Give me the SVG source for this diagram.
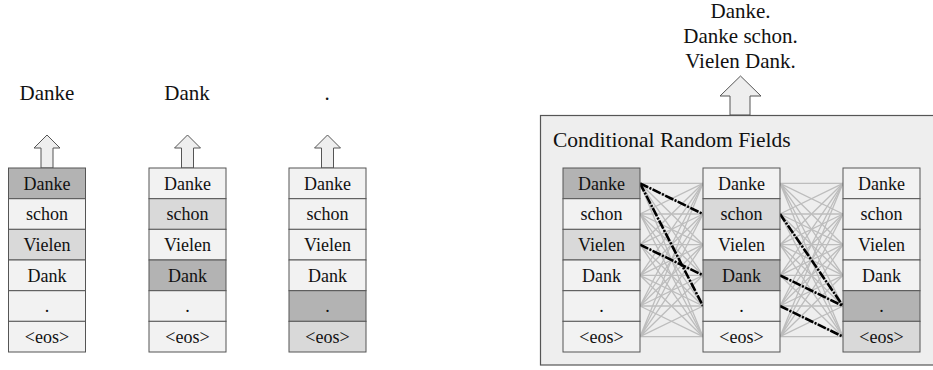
<svg xmlns="http://www.w3.org/2000/svg" width="933" height="370" viewBox="0 0 933 370" font-family="'Liberation Serif', 'DejaVu Serif', serif">
<style>
text{font-family:'Liberation Serif','DejaVu Serif',serif;fill:#111;text-anchor:middle}
.lbl{font-size:21px}
.cell text{font-size:18px}
.c{stroke:#555;stroke-width:1}
.w{fill:#f2f2f2}
.d{fill:#b3b3b3}
.l{fill:#d9d9d9}
.arr{fill:#eeeeee;stroke:#555;stroke-width:1}
.g{stroke:#bdbdbd;stroke-width:1.3;fill:none}
.k{stroke:#000;stroke-width:2.6;fill:none;stroke-dasharray:9 1.5 2 1.5}
</style>

<!-- top labels -->
<text class="lbl" x="47" y="100">Danke</text>
<text class="lbl" x="187" y="100">Dank</text>
<text class="lbl" x="327" y="100">.</text>

<!-- left arrows -->
<path class="arr" d="M47 135 L60 148 L53 148 L53 168 L41 168 L41 148 L34 148 Z"/>
<path class="arr" d="M187.5 135 L200.5 148 L193.5 148 L193.5 168 L181.5 168 L181.5 148 L174.5 148 Z"/>
<path class="arr" d="M327.5 135 L340.5 148 L333.5 148 L333.5 168 L321.5 168 L321.5 148 L314.5 148 Z"/>

<g id="col1" class="cell" transform="translate(8.5,168)">
<rect class="c d" x="0" y="0" width="77" height="30.7"/>
<rect class="c w" x="0" y="30.7" width="77" height="30.7"/>
<rect class="c l" x="0" y="61.3" width="77" height="30.7"/>
<rect class="c w" x="0" y="92" width="77" height="30.7"/>
<rect class="c w" x="0" y="122.7" width="77" height="30.7"/>
<rect class="c w" x="0" y="153.3" width="77" height="30.7"/>
<text x="38.5" y="21.5">Danke</text><text x="38.5" y="52.2">schon</text><text x="38.5" y="82.8">Vielen</text><text x="38.5" y="113.5">Dank</text><text x="38.5" y="144.2">.</text><text x="38.5" y="174.8">&lt;eos&gt;</text>
</g>
<g id="col2" class="cell" transform="translate(149,168)">
<rect class="c w" x="0" y="0" width="77" height="30.7"/>
<rect class="c l" x="0" y="30.7" width="77" height="30.7"/>
<rect class="c w" x="0" y="61.3" width="77" height="30.7"/>
<rect class="c d" x="0" y="92" width="77" height="30.7"/>
<rect class="c w" x="0" y="122.7" width="77" height="30.7"/>
<rect class="c w" x="0" y="153.3" width="77" height="30.7"/>
<text x="38.5" y="21.5">Danke</text><text x="38.5" y="52.2">schon</text><text x="38.5" y="82.8">Vielen</text><text x="38.5" y="113.5">Dank</text><text x="38.5" y="144.2">.</text><text x="38.5" y="174.8">&lt;eos&gt;</text>
</g>
<g id="col3" class="cell" transform="translate(289,168)">
<rect class="c w" x="0" y="0" width="77" height="30.7"/>
<rect class="c w" x="0" y="30.7" width="77" height="30.7"/>
<rect class="c w" x="0" y="61.3" width="77" height="30.7"/>
<rect class="c w" x="0" y="92" width="77" height="30.7"/>
<rect class="c d" x="0" y="122.7" width="77" height="30.7"/>
<rect class="c l" x="0" y="153.3" width="77" height="30.7"/>
<text x="38.5" y="21.5">Danke</text><text x="38.5" y="52.2">schon</text><text x="38.5" y="82.8">Vielen</text><text x="38.5" y="113.5">Dank</text><text x="38.5" y="144.2">.</text><text x="38.5" y="174.8">&lt;eos&gt;</text>
</g>

<!-- right side -->
<g id="output">
<text class="lbl" x="740.5" y="18">Danke.</text>
<text class="lbl" x="740.5" y="43">Danke schon.</text>
<text class="lbl" x="740.5" y="68">Vielen Dank.</text>
</g>
<path class="arr" d="M740.5 76 L761 96 L750 96 L750 115 L730 115 L730 96 L720 96 Z"/>

<g id="crf">
<rect x="540.5" y="115.5" width="400" height="249.5" fill="#eeeeee" stroke="#555" stroke-width="1.2"/>
<text x="553" y="147" style="font-size:21.5px;text-anchor:start">Conditional Random Fields</text>
</g>

<g id="connectors">
<g class="g">
<path d="M640 183.3L703 183.3M640 183.3L703 214M640 183.3L703 244.7M640 183.3L703 275.3M640 183.3L703 306M640 183.3L703 336.7"/>
<path d="M640 214L703 183.3M640 214L703 214M640 214L703 244.7M640 214L703 275.3M640 214L703 306M640 214L703 336.7"/>
<path d="M640 244.7L703 183.3M640 244.7L703 214M640 244.7L703 244.7M640 244.7L703 275.3M640 244.7L703 306M640 244.7L703 336.7"/>
<path d="M640 275.3L703 183.3M640 275.3L703 214M640 275.3L703 244.7M640 275.3L703 275.3M640 275.3L703 306M640 275.3L703 336.7"/>
<path d="M640 306L703 183.3M640 306L703 214M640 306L703 244.7M640 306L703 275.3M640 306L703 306M640 306L703 336.7"/>
<path d="M640 336.7L703 183.3M640 336.7L703 214M640 336.7L703 244.7M640 336.7L703 275.3M640 336.7L703 306M640 336.7L703 336.7"/>
<path d="M780 183.3L843 183.3M780 183.3L843 214M780 183.3L843 244.7M780 183.3L843 275.3M780 183.3L843 306M780 183.3L843 336.7"/>
<path d="M780 214L843 183.3M780 214L843 214M780 214L843 244.7M780 214L843 275.3M780 214L843 306M780 214L843 336.7"/>
<path d="M780 244.7L843 183.3M780 244.7L843 214M780 244.7L843 244.7M780 244.7L843 275.3M780 244.7L843 306M780 244.7L843 336.7"/>
<path d="M780 275.3L843 183.3M780 275.3L843 214M780 275.3L843 244.7M780 275.3L843 275.3M780 275.3L843 306M780 275.3L843 336.7"/>
<path d="M780 306L843 183.3M780 306L843 214M780 306L843 244.7M780 306L843 275.3M780 306L843 306M780 306L843 336.7"/>
<path d="M780 336.7L843 183.3M780 336.7L843 214M780 336.7L843 244.7M780 336.7L843 275.3M780 336.7L843 306M780 336.7L843 336.7"/>
</g>
<g class="k">
<path d="M640 183.3L703 214"/>
<path d="M640 183.3L703 306"/>
<path d="M640 244.7L703 275.3"/>
<path d="M780 214L843 306"/>
<path d="M780 275.3L843 306"/>
<path d="M780 306L843 336.7"/>
</g>
</g>

<g id="crfA" class="cell" transform="translate(563,168)">
<rect class="c d" x="0" y="0" width="77" height="30.7"/>
<rect class="c w" x="0" y="30.7" width="77" height="30.7"/>
<rect class="c l" x="0" y="61.3" width="77" height="30.7"/>
<rect class="c w" x="0" y="92" width="77" height="30.7"/>
<rect class="c w" x="0" y="122.7" width="77" height="30.7"/>
<rect class="c w" x="0" y="153.3" width="77" height="30.7"/>
<text x="38.5" y="21.5">Danke</text><text x="38.5" y="52.2">schon</text><text x="38.5" y="82.8">Vielen</text><text x="38.5" y="113.5">Dank</text><text x="38.5" y="144.2">.</text><text x="38.5" y="174.8">&lt;eos&gt;</text>
</g>
<g id="crfB" class="cell" transform="translate(703,168)">
<rect class="c w" x="0" y="0" width="77" height="30.7"/>
<rect class="c l" x="0" y="30.7" width="77" height="30.7"/>
<rect class="c w" x="0" y="61.3" width="77" height="30.7"/>
<rect class="c d" x="0" y="92" width="77" height="30.7"/>
<rect class="c w" x="0" y="122.7" width="77" height="30.7"/>
<rect class="c w" x="0" y="153.3" width="77" height="30.7"/>
<text x="38.5" y="21.5">Danke</text><text x="38.5" y="52.2">schon</text><text x="38.5" y="82.8">Vielen</text><text x="38.5" y="113.5">Dank</text><text x="38.5" y="144.2">.</text><text x="38.5" y="174.8">&lt;eos&gt;</text>
</g>
<g id="crfC" class="cell" transform="translate(843,168)">
<rect class="c w" x="0" y="0" width="77" height="30.7"/>
<rect class="c w" x="0" y="30.7" width="77" height="30.7"/>
<rect class="c w" x="0" y="61.3" width="77" height="30.7"/>
<rect class="c w" x="0" y="92" width="77" height="30.7"/>
<rect class="c d" x="0" y="122.7" width="77" height="30.7"/>
<rect class="c l" x="0" y="153.3" width="77" height="30.7"/>
<text x="38.5" y="21.5">Danke</text><text x="38.5" y="52.2">schon</text><text x="38.5" y="82.8">Vielen</text><text x="38.5" y="113.5">Dank</text><text x="38.5" y="144.2">.</text><text x="38.5" y="174.8">&lt;eos&gt;</text>
</g>
</svg>
